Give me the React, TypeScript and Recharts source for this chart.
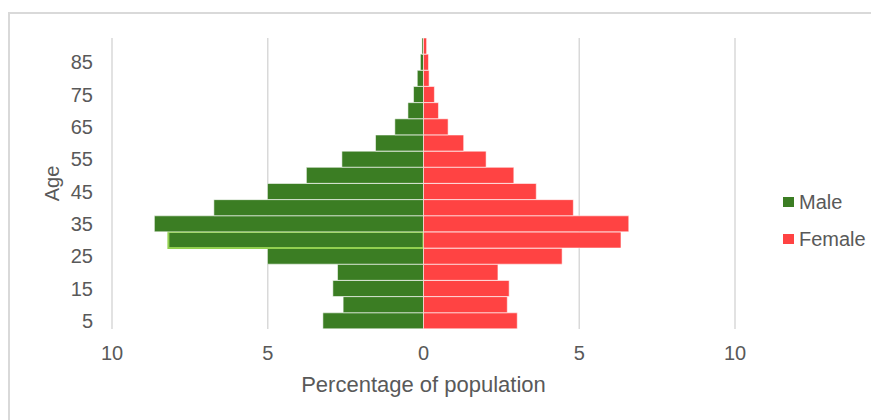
import { BarChart, Bar, XAxis, YAxis, CartesianGrid, Legend, Label, Cell } from "recharts";

// age groups, bottom to top
const ages = [5, 10, 15, 20, 25, 30, 35, 40, 45, 50, 55, 60, 65, 70, 75, 80, 85, 90];
// percentage of population
const male = [3.23, 2.58, 2.91, 2.76, 5.01, 8.19, 8.64, 6.73, 5.01, 3.76, 2.62, 1.54, 0.92, 0.5, 0.32, 0.2, 0.1, 0.05];
const female = [3.01, 2.69, 2.75, 2.39, 4.45, 6.34, 6.59, 4.81, 3.62, 2.9, 2.01, 1.29, 0.79, 0.48, 0.35, 0.18, 0.16, 0.1];
const seriesNames = ["Male", "Female"];
const xTicks = [-10, -5, 0, 5, 10];
const highlightedAge = 30;

const data = ages.map((age, i) => ({ age, male: -male[i], female: female[i] }));

const GREEN = "#3b7d23";
const RED = "#ff4343";
const TEXT = "#595959";

function PyramidLegend({ payload }: any) {
  const items = [...(payload || [])].sort(
    (a: any, b: any) => seriesNames.indexOf(a.value) - seriesNames.indexOf(b.value)
  );
  return (
    <ul style={{ listStyle: "none", margin: 0, padding: "8px 0 0 48px", width: 140, boxSizing: "border-box" }}>
      {items.map((p: any) => (
        <li
          key={p.value}
          style={{ display: "flex", alignItems: "center", height: 37, fontSize: 20, color: TEXT, whiteSpace: "nowrap" }}
        >
          <span style={{ width: 11, height: 10, background: p.color, marginRight: 5, flexShrink: 0 }} />
          {p.value}
        </li>
      ))}
    </ul>
  );
}

function AgeLabel({ viewBox }: any) {
  const cx = viewBox.x + 42;
  const cy = viewBox.y + viewBox.height / 2;
  return (
    <text x={cx} y={cy} transform={`rotate(-90 ${cx} ${cy})`} textAnchor="middle" dominantBaseline="central" fontSize={20} fill={TEXT}>
      Age
    </text>
  );
}

export default function App() {
  return (
    <div
      style={{
        width: 871,
        height: 412,
        marginTop: 4,
        borderTop: "2px solid #d9d9d9",
        borderLeft: "2px solid #d9d9d9",
        borderRight: "2px solid #d9d9d9",
        boxSizing: "border-box",
        fontFamily: "'Liberation Sans', Arial, sans-serif",
      }}
    >
      <BarChart
        width={867}
        height={405}
        data={data}
        layout="vertical"
        stackOffset="sign"
        barCategoryGap={0}
        margin={{ top: 24, right: 2, bottom: 0, left: 0 }}
      >
        <CartesianGrid horizontal={false} stroke="#d9d9d9" strokeWidth={1.5} />
        <XAxis
          type="number"
          domain={[-10, 10]}
          ticks={xTicks}
          tickFormatter={(v) => String(Math.abs(v))}
          axisLine={false}
          tickLine={false}
          tickMargin={11}
          height={90}
          tick={{ fontSize: 20, fill: TEXT }}
        >
          <Label value="Percentage of population" position="insideBottom" offset={27} fontSize={22} fill={TEXT} />
        </XAxis>
        <YAxis
          type="category"
          dataKey="age"
          reversed
          interval={1}
          axisLine={false}
          tickLine={false}
          tickMargin={13}
          width={102}
          tick={{ fontSize: 20, fill: TEXT }}
        >
          <Label content={<AgeLabel />} position="insideLeft" />
        </YAxis>
        <Legend
          layout="vertical"
          align="right"
          verticalAlign="middle"
          width={140}
          content={<PyramidLegend />}
        />
        <Bar dataKey="male" name={seriesNames[0]} stackId="a" fill={GREEN} stroke="rgba(255,255,255,0.55)" strokeWidth={1} isAnimationActive={false}>
          {data.map((d) => (
            <Cell
              key={`m-${d.age}`}
              fill={GREEN}
              stroke={d.age === highlightedAge ? "#92d050" : "rgba(255,255,255,0.55)"}
              strokeWidth={d.age === highlightedAge ? 2 : 1}
            />
          ))}
        </Bar>
        <Bar dataKey="female" name={seriesNames[1]} stackId="a" fill={RED} stroke="rgba(255,255,255,0.55)" strokeWidth={1} isAnimationActive={false} />
      </BarChart>
    </div>
  );
}
